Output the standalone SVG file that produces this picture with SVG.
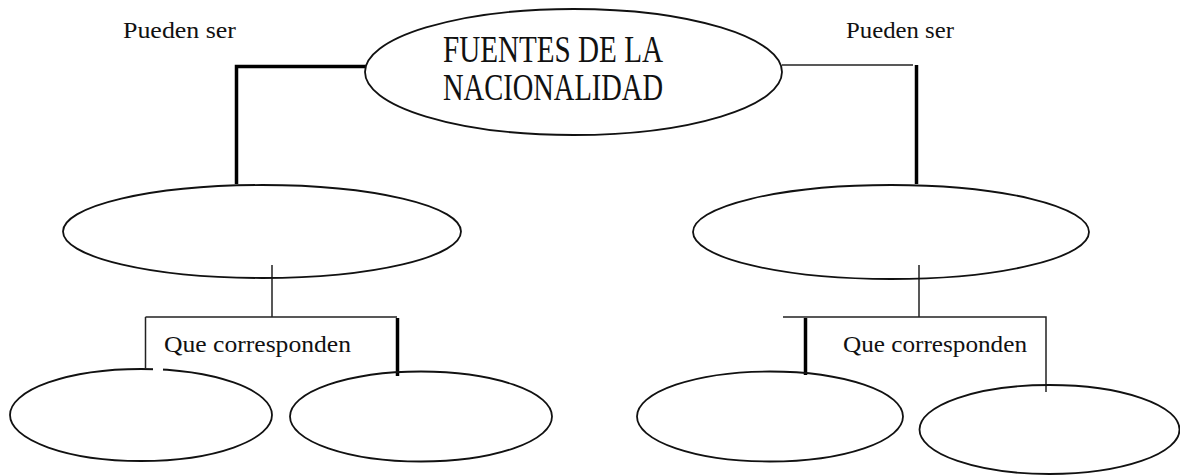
<svg xmlns="http://www.w3.org/2000/svg" width="1180" height="476" viewBox="0 0 1180 476">
<style>
.node{fill:none;stroke:#111;stroke-width:1.8}
.thin{stroke:#222;stroke-width:1.5;fill:none}
.thick{stroke:#000;stroke-width:3.5;fill:none}
.lbl{font-family:"Liberation Serif","DejaVu Serif",serif;font-size:24px;fill:#111}
.title{font-family:"Liberation Serif","DejaVu Serif",serif;font-size:38px;fill:#111}
</style>
<rect width="1180" height="476" fill="#fff"/>
<g id="labels">
<text class="lbl" x="123" y="38" textLength="113" lengthAdjust="spacingAndGlyphs">Pueden ser</text>
<text class="lbl" x="846" y="38" textLength="108" lengthAdjust="spacingAndGlyphs">Pueden ser</text>
<text class="lbl" x="164" y="352" textLength="187" lengthAdjust="spacingAndGlyphs">Que corresponden</text>
<text class="lbl" x="843" y="352" textLength="184" lengthAdjust="spacingAndGlyphs">Que corresponden</text>
</g>
<g id="connectors">
<path class="thick" d="M366 66.5H236.5V184"/>
<path class="thin" d="M782 65H913"/>
<path class="thick" d="M916.5 65V184"/>
<path class="thin" d="M272 265V317M145.5 317H397M145.5 317V368"/>
<path class="thick" d="M397.5 318V376"/>
<path class="thin" d="M919 265V317M783 317H1046V392"/>
<path class="thick" d="M805.5 318V375"/>
</g>
<g id="root">
<ellipse class="node" cx="573.5" cy="72" rx="208.5" ry="63"/>
<text class="title" x="443" y="62" textLength="220" lengthAdjust="spacingAndGlyphs">FUENTES DE LA</text>
<text class="title" x="443" y="100" textLength="220" lengthAdjust="spacingAndGlyphs">NACIONALIDAD</text>
</g>
<g id="mid-left"><ellipse class="node" cx="262" cy="231.5" rx="199" ry="46.5"/></g>
<g id="mid-right"><ellipse class="node" cx="891" cy="232" rx="198" ry="47"/></g>
<g id="bottom-1"><ellipse class="node" cx="141" cy="415" rx="131" ry="46"/><rect x="153" y="366" width="10" height="6" fill="#fff"/></g>
<g id="bottom-2"><ellipse class="node" cx="421" cy="416.5" rx="131" ry="45"/></g>
<g id="bottom-3"><ellipse class="node" cx="770" cy="416.5" rx="133" ry="45"/></g>
<g id="bottom-4"><ellipse class="node" cx="1049.5" cy="429.5" rx="130" ry="44.5"/></g>
</svg>
